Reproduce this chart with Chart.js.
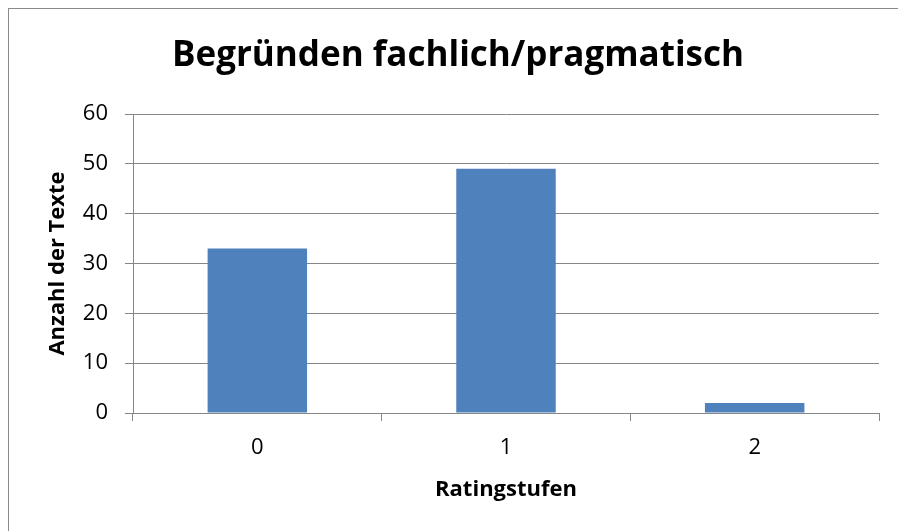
<!DOCTYPE html>
<html>
<head>
<meta charset="utf-8">
<script src="https://cdn.jsdelivr.net/npm/chart.js@4/dist/chart.umd.min.js"></script>
<style>
  html, body { margin: 0; padding: 0; background: #fff; overflow: hidden; }
  .frame {
    position: absolute; left: 8px; top: 8px;
    width: 1000px; height: 1000px;
    border: 1px solid #8a8a8a;
  }
  #ratingChart { position: absolute; left: 0; top: 0; }
</style>
</head>
<body>
<div class="frame"></div>
<canvas id="ratingChart" width="898" height="531"></canvas>
<script>
// Anzahl der Texte je Ratingstufe
const ratingLabels = ["0", "1", "2"];
const textCounts = [33, 49, 2];
const yMax = 60;
const yStep = 10;

const axisGray = "#868686";
const fontFamily = "'Open Sans', 'Noto Sans', sans-serif";

const ctx = document.getElementById("ratingChart").getContext("2d");
new Chart(ctx, {
  type: "bar",
  data: {
    labels: ratingLabels,
    datasets: [{
      data: textCounts,
      backgroundColor: "#4F81BD",
      borderWidth: 0,
      categoryPercentage: 1,
      barPercentage: 0.4,
    }],
  },
  options: {
    responsive: false,
    animation: false,
    // links mehr Rand, damit der Titel etwas rechts der Mitte sitzt
    layout: { padding: { top: 0, left: 37, right: 19, bottom: 0 } },
    plugins: {
      legend: { display: false },
      tooltip: { enabled: false },
      title: {
        display: true,
        text: "Begründen fachlich/pragmatisch",
        color: "#000",
        font: { family: fontFamily, size: 35, weight: "bold", lineHeight: 1.2 },
        padding: { top: 35, bottom: 37 },
      },
    },
    scales: {
      x: {
        grid: {
          display: true,
          drawOnChartArea: false,
          drawTicks: true,
          tickLength: 8,
          offset: true,
          color: axisGray,
        },
        border: { display: true, color: axisGray, width: 1 },
        ticks: { color: "#000", padding: 14, font: { family: fontFamily, size: 22, lineHeight: 1.2 } },
        title: {
          display: true,
          text: "Ratingstufen",
          color: "#000",
          font: { family: fontFamily, size: 22, weight: "bold", lineHeight: 1.2 },
          padding: { top: 0, bottom: 28 },
        },
        afterFit: (scale) => { scale.height = 118; },
      },
      y: {
        min: 0,
        max: yMax,
        grid: { color: axisGray, drawTicks: true, tickLength: 8 },
        border: { display: true, color: axisGray, width: 1 },
        ticks: {
          stepSize: yStep,
          color: "#000",
          padding: 17,
          font: { family: fontFamily, size: 22, lineHeight: 1.2 },
        },
        title: {
          display: true,
          text: "Anzahl der Texte",
          color: "#000",
          font: { family: fontFamily, size: 22, weight: "bold", lineHeight: 1.2 },
          padding: { top: 8, bottom: 0 },
        },
        afterFit: (scale) => { scale.width = 96; },
      },
    },
  },
});
</script>
</body>
</html>
